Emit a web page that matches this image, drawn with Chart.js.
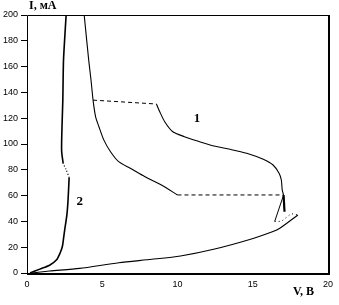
<!DOCTYPE html>
<html><head><meta charset="utf-8">
<script src="https://cdn.jsdelivr.net/npm/chart.js@4.4.0/dist/chart.umd.min.js"></script>
<style>html,body{margin:0;padding:0;background:#fff}#wrap{width:339px;height:305px}</style>
</head><body><div id="wrap"><canvas id="c" width="339" height="305"></canvas></div>
<script>
// Tick labels
const xTicks = [0, 5, 10, 15, 20];
const yTicks = [0, 20, 40, 60, 80, 100, 120, 140, 160, 180, 200];

// Curve 2 (left branch)
const c2LowV = [0.2, 0.85, 1.5, 1.95, 2.2, 2.35, 2.42, 2.5, 2.65, 2.73, 2.8];
const c2LowI = [0, 3, 6, 10, 15.5, 20.5, 26, 33, 45, 57, 74];
const c2GapV = [2.8, 2.6, 2.4];
const c2GapI = [74, 80, 85];
const c2UpV = [2.4, 2.3, 2.33, 2.38, 2.4, 2.42, 2.46, 2.6];
const c2UpI = [85, 95, 115, 134, 150, 163, 173, 200];

// Curve 1 (left descending branch)
const c1DownV = [3.8, 4.1, 4.25, 4.39, 4.56, 4.78, 5.11, 5.55, 6.09, 6.86, 7.84, 8.93, 10.0];
const c1DownI = [200, 165, 150, 134, 121, 113.4, 103, 94, 86.3, 81.2, 74.6, 68.2, 60.5];
// Jumps (dashed)
const jumpLowV = [10.0, 17.05];
const jumpLowI = [60.5, 60.5];
const jumpHighV = [4.39, 8.6];
const jumpHighI = [134, 131];
// Curve 1 (right branch)
const c1RightV = [8.6, 8.82, 9.15, 9.69, 10.46, 11.33, 12.42, 13.49, 14.6, 15.7, 16.35, 16.75, 16.9, 16.96, 17.05];
const c1RightI = [131, 125, 117.3, 109.5, 105.7, 102.3, 98.4, 95.9, 92.8, 88.1, 83.7, 77.3, 72.1, 64.3, 60.5];
const c1ThickV = [17.05, 17.11];
const c1ThickI = [60.5, 47.5];
const c1SlopeV = [17.05, 16.46];
const c1SlopeI = [60.5, 40];
const c1DotV = [16.46, 16.9, 17.55, 18.0];
const c1DotI = [40, 40, 46, 45];

// Bottom curve (from origin)
const baseV = [0.3, 1.5, 3.5, 6.1, 8.3, 10.2, 12.4, 14.8, 16.3, 16.8, 18.0];
const baseI = [0, 1.5, 3.6, 8, 10.6, 13.2, 18.4, 26, 32, 34.7, 45];

// Curve labels
const curveLabels = ['1', '2'];
const curveLabelV = [11.3, 3.5];
const curveLabelI = [120, 55];

function pts(v, i) { return v.map((x, k) => ({x: x, y: i[k]})); }
function ds(v, i, opt) {
  return Object.assign({data: pts(v, i), showLine: true, borderColor: '#000', backgroundColor: '#000',
    pointRadius: 0, borderWidth: 1, tension: 0.25, fill: false}, opt || {});
}

const framePlugin = {
  id: 'frame',
  afterDraw(chart) {
    const ctx = chart.ctx, a = chart.chartArea;
    const xs = chart.scales.x, ys = chart.scales.y;
    ctx.save();
    ctx.strokeStyle = '#000';
    ctx.lineWidth = 1;
    ctx.beginPath();
    ctx.moveTo(a.left + 0.5, a.bottom); ctx.lineTo(a.left + 0.5, a.top + 0.5); ctx.lineTo(a.right, a.top + 0.5);
    ctx.stroke();
    ctx.lineWidth = 2;
    ctx.beginPath();
    ctx.moveTo(a.right + 1, a.top); ctx.lineTo(a.right + 1, a.bottom + 1); ctx.lineTo(a.left, a.bottom + 1);
    ctx.stroke();
    ctx.fillStyle = '#000';
    ctx.font = "bold 12px 'Liberation Serif'";
    ctx.textBaseline = 'middle';
    ctx.textAlign = 'left';
    ctx.fillText('I, мА', 29, 6);
    ctx.fillText('V, В', 293, 292);
    ctx.font = "bold 13px 'Liberation Serif'";
    ctx.textAlign = 'center';
    curveLabels.forEach((t, k) => {
      ctx.fillText(t, xs.getPixelForValue(curveLabelV[k]), ys.getPixelForValue(curveLabelI[k]));
    });
    ctx.restore();
  }
};

new Chart(document.getElementById('c'), {
  type: 'scatter',
  data: {
    datasets: [
      ds(c2LowV, c2LowI, {borderWidth: 1.6}),
      ds(c2GapV, c2GapI, {borderWidth: 1.2, borderDash: [1, 2]}),
      ds(c2UpV, c2UpI, {borderWidth: 1.6}),
      ds(c1DownV, c1DownI, {borderWidth: 1.1}),
      ds(jumpLowV, jumpLowI, {borderDash: [4, 3], tension: 0}),
      ds(jumpHighV, jumpHighI, {borderDash: [4, 3], tension: 0}),
      ds(c1RightV, c1RightI, {borderWidth: 1.1}),
      ds(c1ThickV, c1ThickI, {borderWidth: 2.2, tension: 0}),
      ds(c1SlopeV, c1SlopeI, {tension: 0}),
      ds(c1DotV, c1DotI, {borderDash: [1, 3], tension: 0}),
      ds(baseV, baseI, {borderWidth: 1.1})
    ]
  },
  options: {
    responsive: false,
    animation: false,
    events: [],
    layout: {padding: {top: 15, right: 7, left: 0, bottom: 0}},
    plugins: {legend: {display: false}, tooltip: {enabled: false}},
    scales: {
      x: {
        type: 'linear', min: xTicks[0], max: xTicks[xTicks.length - 1],
        afterBuildTicks(s) { s.ticks = xTicks.map(v => ({value: v})); },
        afterFit(s) { s.height = 32; },
        border: {display: false},
        grid: {display: true, drawOnChartArea: false, drawTicks: false, color: '#000'},
        ticks: {color: '#000', padding: 6, font: {family: "'Liberation Sans'", size: 9}}
      },
      y: {
        type: 'linear', min: yTicks[0], max: yTicks[yTicks.length - 1],
        afterBuildTicks(s) { s.ticks = yTicks.map(v => ({value: v})); },
        afterFit(s) { s.width = 27; },
        border: {display: false},
        grid: {display: true, drawOnChartArea: false, drawTicks: true, tickLength: 6, color: '#000'},
        ticks: {color: '#000', padding: 3, font: {family: "'Liberation Sans'", size: 9}}
      }
    }
  },
  plugins: [framePlugin]
});
</script>
</body></html>
